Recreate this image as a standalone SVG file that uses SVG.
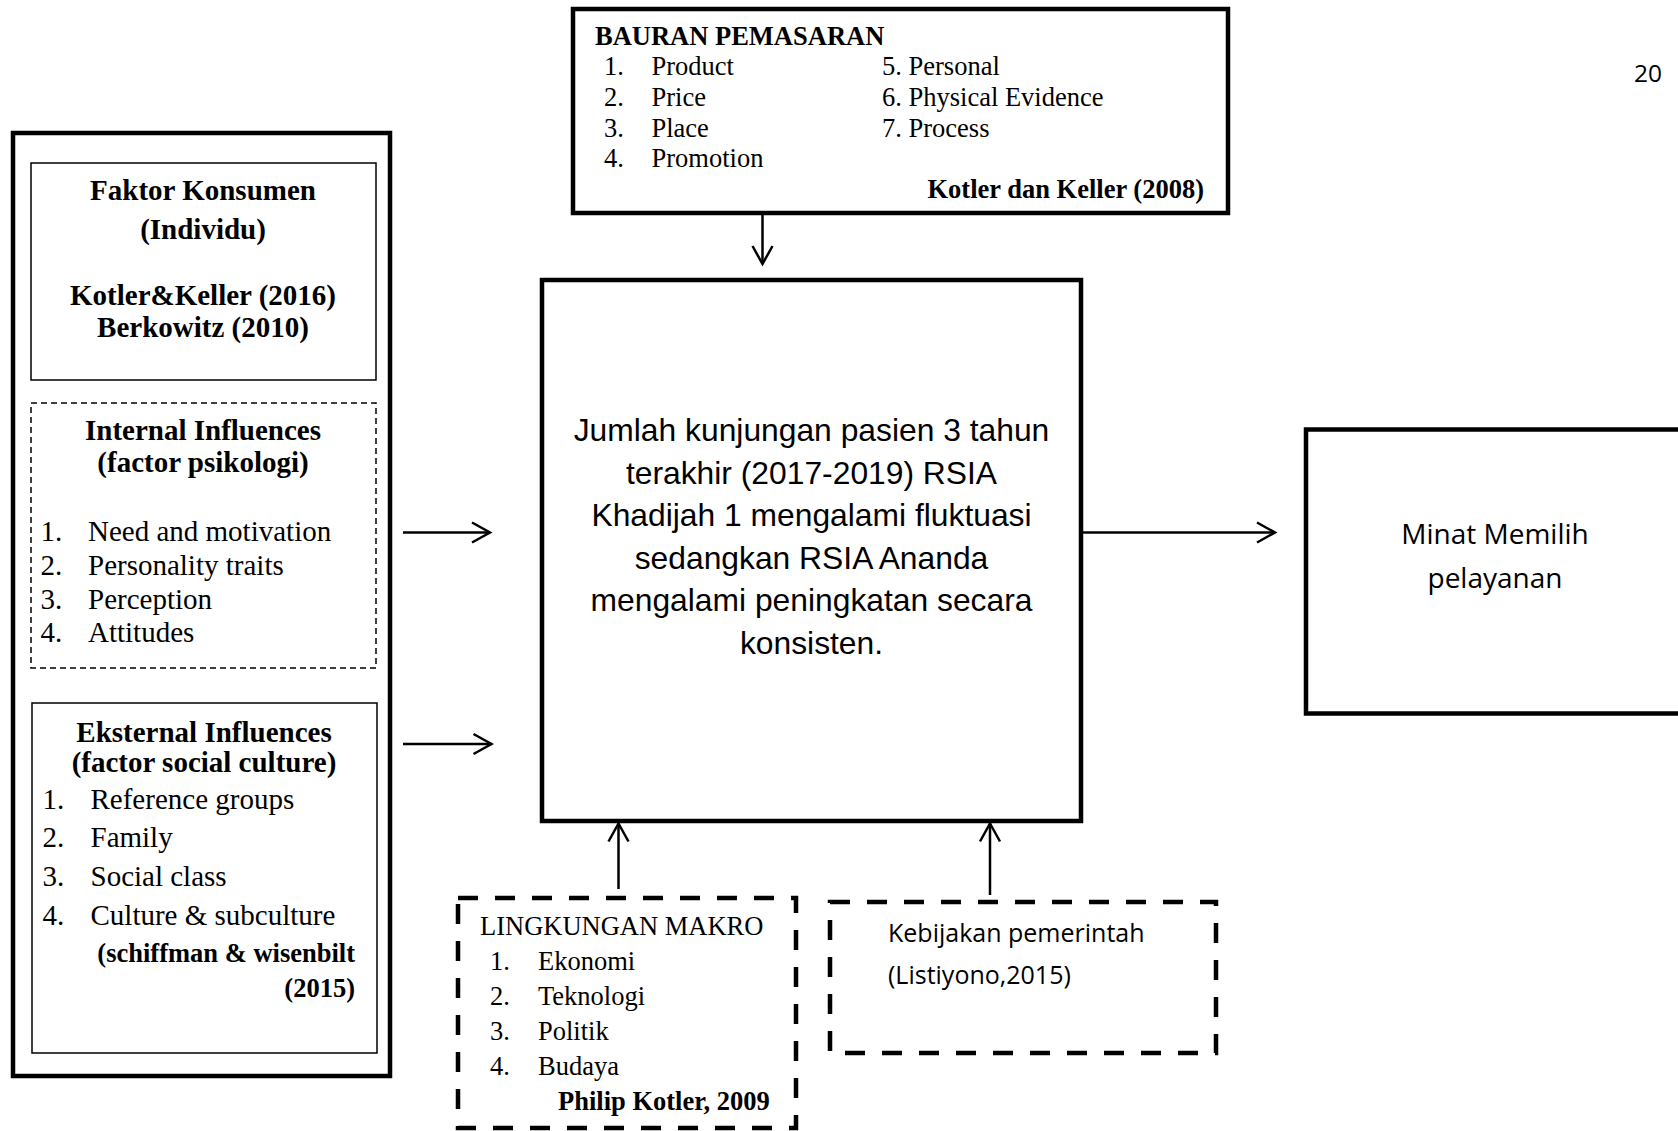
<svg xmlns="http://www.w3.org/2000/svg" width="1678" height="1131" viewBox="0 0 1678 1131">
<style>
.box{fill:none;stroke:#000;stroke-width:4.5}
.thin{fill:none;stroke:#000;stroke-width:1.5}
.tdash{fill:none;stroke:#000;stroke-width:1.5;stroke-dasharray:6 4}
.bdash{fill:none;stroke:#000;stroke-width:4.5;stroke-dasharray:20 17}
.conn{fill:none;stroke:#000;stroke-width:2.5}
.tr{font-family:"Liberation Serif","Times New Roman",serif;fill:#000}
.b{font-weight:bold}
.s29{font-size:29px}
.s26{font-size:26.5px}
.ar{font-family:"Liberation Sans",Arial,sans-serif;font-size:31.8px;fill:#000}
.ca{font-family:"Open Sans","Noto Sans",sans-serif;fill:#000}
.mid{text-anchor:middle}
.end{text-anchor:end}
</style>
<defs>
<marker id="arr" markerUnits="userSpaceOnUse" markerWidth="24" markerHeight="24" viewBox="-20 -12 24 24" refX="0" refY="0" orient="auto">
<path d="M-18,-10 L0,0 L-18,10" fill="none" stroke="#000" stroke-width="2.5"/>
</marker>
</defs>
<rect width="1678" height="1131" fill="#fff"/>

<text class="ca" x="1634" y="81.5" font-size="24.5">20</text>

<g id="faktor-konsumen">
<rect class="box" x="13" y="133" width="377" height="943" stroke-width="5"/>
<rect class="thin" x="31" y="163" width="345" height="217"/>
<text class="tr b s29 mid" x="203" y="200">Faktor Konsumen</text>
<text class="tr b s29 mid" x="203" y="238.5">(Individu)</text>
<text class="tr b s29 mid" x="203" y="304.5">Kotler&amp;Keller (2016)</text>
<text class="tr b s29 mid" x="203" y="337">Berkowitz (2010)</text>
</g>

<g id="internal-influences">
<rect class="tdash" x="31" y="403" width="345" height="265"/>
<text class="tr b s29 mid" x="203" y="440">Internal Influences</text>
<text class="tr b s29 mid" x="203" y="472">(factor psikologi)</text>
<text class="tr s29" x="40.5" y="541">1.</text><text class="tr s29" x="88" y="541">Need and motivation</text>
<text class="tr s29" x="40.5" y="575">2.</text><text class="tr s29" x="88" y="575">Personality traits</text>
<text class="tr s29" x="40.5" y="608.5">3.</text><text class="tr s29" x="88" y="608.5">Perception</text>
<text class="tr s29" x="40.5" y="641.5">4.</text><text class="tr s29" x="88" y="641.5">Attitudes</text>
</g>

<g id="eksternal-influences">
<rect class="thin" x="32" y="703" width="345" height="350"/>
<text class="tr b s29 mid" x="204" y="741.5">Eksternal Influences</text>
<text class="tr b s29 mid" x="204" y="772">(factor social culture)</text>
<text class="tr s29" x="42.5" y="809">1.</text><text class="tr s29" x="90.5" y="809">Reference groups</text>
<text class="tr s29" x="42.5" y="847">2.</text><text class="tr s29" x="90.5" y="847">Family</text>
<text class="tr s29" x="42.5" y="886">3.</text><text class="tr s29" x="90.5" y="886">Social class</text>
<text class="tr s29" x="42.5" y="924.5">4.</text><text class="tr s29" x="90.5" y="924.5">Culture &amp; subculture</text>
<text class="tr b s26 end" x="355" y="962">(schiffman &amp; wisenbilt</text>
<text class="tr b s26 end" x="355" y="997">(2015)</text>
</g>

<g id="bauran-pemasaran">
<rect class="box" x="573" y="9" width="655" height="204"/>
<text class="tr b s26" x="595" y="45">BAURAN PEMASARAN</text>
<text class="tr s26" x="604" y="75">1.</text><text class="tr s26" x="651.5" y="75">Product</text>
<text class="tr s26" x="604" y="106">2.</text><text class="tr s26" x="651.5" y="106">Price</text>
<text class="tr s26" x="604" y="136.5">3.</text><text class="tr s26" x="651.5" y="136.5">Place</text>
<text class="tr s26" x="604" y="167">4.</text><text class="tr s26" x="651.5" y="167">Promotion</text>
<text class="tr s26" x="882" y="75">5. Personal</text>
<text class="tr s26" x="882" y="106">6. Physical Evidence</text>
<text class="tr s26" x="882" y="136.5">7. Process</text>
<text class="tr b s26 end" x="1204" y="198">Kotler dan Keller (2008)</text>
</g>

<g id="jumlah-kunjungan">
<rect class="box" x="542" y="280" width="539" height="541"/>
<text class="ar mid" x="811.5" y="441">Jumlah kunjungan pasien 3 tahun</text>
<text class="ar mid" x="811.5" y="483.5">terakhir (2017-2019) RSIA</text>
<text class="ar mid" x="811.5" y="526">Khadijah 1 mengalami fluktuasi</text>
<text class="ar mid" x="811.5" y="568.5">sedangkan RSIA Ananda</text>
<text class="ar mid" x="811.5" y="611">mengalami peningkatan secara</text>
<text class="ar mid" x="811.5" y="653.5">konsisten.</text>
</g>

<g id="minat-memilih">
<rect class="box" x="1306" y="429.5" width="400" height="284"/>
<text class="ca mid" x="1495" y="544" font-size="28">Minat Memilih</text>
<text class="ca mid" x="1495" y="588" font-size="28">pelayanan</text>
</g>

<g id="lingkungan-makro">
<rect class="bdash" x="458" y="898" width="338" height="230"/>
<text class="tr s26" x="480" y="935">LINGKUNGAN MAKRO</text>
<text class="tr s26" x="490" y="970">1.</text><text class="tr s26" x="538" y="970">Ekonomi</text>
<text class="tr s26" x="490" y="1005">2.</text><text class="tr s26" x="538" y="1005">Teknologi</text>
<text class="tr s26" x="490" y="1040">3.</text><text class="tr s26" x="538" y="1040">Politik</text>
<text class="tr s26" x="490" y="1075">4.</text><text class="tr s26" x="538" y="1075">Budaya</text>
<text class="tr b s26" x="558" y="1110">Philip Kotler, 2009</text>
</g>

<g id="kebijakan-pemerintah">
<rect class="bdash" x="830" y="902" width="386" height="151"/>
<text class="ca" x="888" y="942" font-size="25">Kebijakan pemerintah</text>
<text class="ca" x="888" y="984" font-size="25">(Listiyono,2015)</text>
</g>

<g id="connectors">
<line class="conn" x1="762.5" y1="215" x2="762.5" y2="264" marker-end="url(#arr)"/>
<line class="conn" x1="403" y1="532.5" x2="490" y2="532.5" marker-end="url(#arr)"/>
<line class="conn" x1="403" y1="744" x2="491.5" y2="744" marker-end="url(#arr)"/>
<line class="conn" x1="1083" y1="532.5" x2="1275" y2="532.5" marker-end="url(#arr)"/>
<line class="conn" x1="618.5" y1="889" x2="618.5" y2="823.5" marker-end="url(#arr)"/>
<line class="conn" x1="990" y1="895" x2="990" y2="823.5" marker-end="url(#arr)"/>
</g>
</svg>
